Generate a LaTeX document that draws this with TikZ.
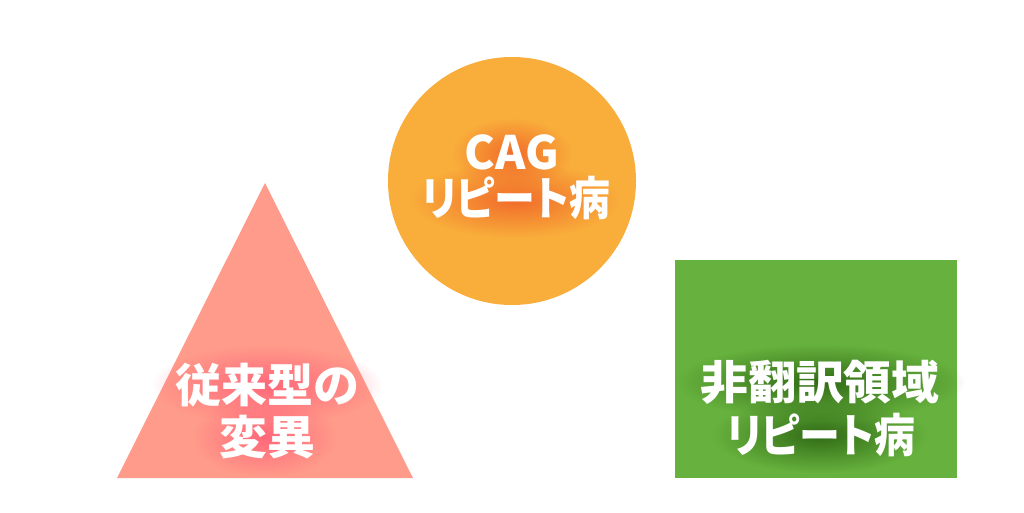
\documentclass[tikz,border=0pt]{standalone}
\usepackage{fontspec}
\usepackage{graphicx}
\newfontfamily\jp{Noto Sans CJK JP}[BoldFont={Noto Sans CJK JP Black}, RawFeature=+palt]
\usetikzlibrary{fadings}
\definecolor{circfill}{RGB}{249,174,59}
\definecolor{circglow}{RGB}{240,96,40}
\definecolor{trifill}{RGB}{255,155,138}
\definecolor{triglow}{RGB}{255,95,120}
\definecolor{recfill}{RGB}{103,178,62}
\definecolor{recglow}{RGB}{40,95,15}
\tikzfading[name=glowfade, inner color=transparent!0, outer color=transparent!100]
\tikzset{
  lbl/.style={text=white, font=\jp\bfseries\fontsize{46}{50}\selectfont, inner sep=0pt},
  glow/.style={fill=#1, path fading=glowfade, opacity=0.85}
}
\newcommand\narrowtxt[1]{\scalebox{0.89}[1]{#1}}
\begin{document}
\begin{tikzpicture}[x=1pt,y=1pt]
\useasboundingbox (0,0) rectangle (1024,512);
\fill[white] (0,0) rectangle (1024,512);
% shapes
\fill[circfill] (512,331) circle (124);
\fill[trifill] (265,329) -- (117,34) -- (413,34) -- cycle;
\fill[recfill] (675,252) rectangle (957,34);
% glows
\fill[glow=circglow] (512,358) ellipse (60 and 36);
\fill[glow=circglow] (515,312) ellipse (105 and 38);
\fill[glow=triglow] (267,127) ellipse (115 and 40);
\fill[glow=triglow] (265,75) ellipse (72 and 40);
\fill[glow=recglow] (820,130) ellipse (145 and 38);
\fill[glow=recglow] (820,77) ellipse (108 and 38);
% labels
\node[lbl] (cag) at (512,360) {CAG};
\node[lbl] (cagrep) at (516,314) {\narrowtxt{リピート病}};
\node[lbl] (trad1) at (267,127) {従来型の};
\node[lbl] (trad2) at (267,75) {\scalebox{1.04}[1]{変異}};
\node[lbl] (utr1) at (820,130) {\scalebox{1.04}[1]{非翻訳領域}};
\node[lbl] (utr2) at (821,77) {\narrowtxt{リピート病}};
\end{tikzpicture}
\end{document}
